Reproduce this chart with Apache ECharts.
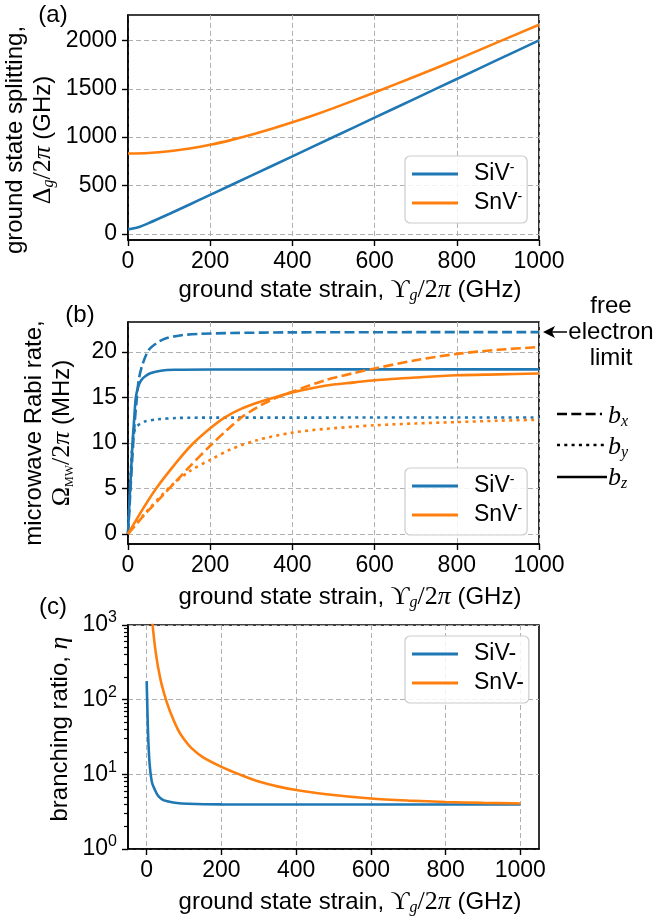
<!DOCTYPE html>
<html><head><meta charset="utf-8">
<script src="https://cdn.jsdelivr.net/npm/echarts@6/dist/echarts.min.js"></script>
<style>html,body{margin:0;padding:0;background:#fff}#c{width:653px;height:919px}</style>
</head><body><div id="c"></div><script>
// (a) ground state splitting vs strain
const xSivA = [0,25,50,100,150,200,300,400,500,600,700,800,900,1000];
const sivSplit = [46,68,110,205,303,403,602,801,1001,1201,1401,1601,1801,2000];
const xSnvA = [0,50,100,150,200,250,300,350,400,450,500,600,700,800,900,1000];
const snvSplit = [830,836,854,883,921,969,1024,1086,1153,1224,1300,1462,1630,1802,1982,2162];

// (b) microwave Rabi rate
const xSivBx = [0,5,10,15,20,26,35,50,70,91,130,172,253,400,1000];
const sivBx  = [0,4,8,11.5,14.2,16.9,18.6,20.2,21,21.5,21.85,22,22.1,22.17,22.2];
const xSivBy = [0,3,6,10,15,22,40,72,120,200,1000];
const sivBy  = [0,3,6,9.5,11.25,11.85,12.35,12.6,12.75,12.79,12.8];
const xSivBz = [0,3,6,11,15,19,25,32,42,56,80,113,200,1000];
const sivBz  = [0,3,5.6,10,12.6,15,16.2,16.9,17.35,17.7,17.95,18.05,18.09,18.1];
const xSnvBx = [0,40,88,113,150,200,240,276,310,349,400,479,552,600,700,800,900,1000];
const snvBx  = [0,2.1,4.4,5.6,7.4,9.7,11.4,12.8,13.8,14.75,15.65,16.9,17.72,18.2,19.1,19.8,20.25,20.55];
const xSnvBy = [0,40,105,150,200,250,316,400,479,552,600,700,800,900,1000];
const snvBy  = [0,2.2,5.3,6.9,8.15,9.3,10.34,11.14,11.55,11.8,11.95,12.15,12.3,12.45,12.55];
const xSnvBz = [0,40,72,113,154,200,235,275,316,360,400,479,552,600,700,800,900,1000];
const snvBz  = [0,3.03,5.22,7.6,9.75,11.62,12.8,13.75,14.45,15.05,15.57,16.3,16.67,16.9,17.2,17.45,17.55,17.65];

// (c) branching ratio
const xSivC = [0,1,2,3,4,5,6,8,11.5,15,22,30,40,55,75,110,200,1000];
const sivEta = [177,110,70,45,32,24,19.2,13.5,9.3,7.5,6.2,5.2,4.67,4.35,4.16,4.03,3.96,3.95];
const xSnvC = [13,15,17.7,22,26,31,40,53,65,84,100,120,150,200,250,300,350,400,475,600,700,800,900,1000];
const snvEta = [1480,1115,810,520,374,264,160,95,65,39.5,29.5,22.4,17,12.6,9.9,8.0,6.9,6.17,5.45,4.74,4.45,4.27,4.15,4.07];

const strainTicks = [0,200,400,600,800,1000];
const splitTicks = [0,500,1000,1500,2000];
const rabiTicks = [0,5,10,15,20];
const minorLog = [2,3,4,5,6,7,8,9,20,30,40,50,60,70,80,90,200,300,400,500,600,700,800,900];

const BLUE = '#1f77b4', ORANGE = '#ff7f0e';
const SANS = 'Liberation Sans, Arial, sans-serif';
const SERIF = 'Liberation Serif, DejaVu Serif, serif';
const DASH = [10,4.3], DOT = [3,4.3];

const zip = (xs, ys) => xs.map((x,i)=>[x, ys[i]]);
function ln(name, xs, ys, color, type, gi, z){
  return {name, type:'line', xAxisIndex:gi, yAxisIndex:gi, data:zip(xs,ys), symbol:'none', showSymbol:false,
    smooth:0.3, lineStyle:{color, width:2.6, type:type||'solid'}, itemStyle:{color}, z:z||2, silent:true};
}

const gridLine = {show:true, lineStyle:{color:'#b0b0b0', width:1, type:[5,3]}};
const tickStyle = {color:'#000', width:1.4};
const plain = v => String(v);
function xAx(gi, extra){
  return Object.assign({type:'value', gridIndex:gi, min:0, max:1000, interval:200,
    axisLine:{show:true, onZero:false, lineStyle:{color:'#000', width:1.6}},
    axisTick:{show:true, inside:false, length:6, lineStyle:tickStyle},
    axisLabel:{color:'#000', fontSize:23, fontFamily:SANS, margin:10, formatter:plain},
    splitLine:gridLine}, extra||{});
}
function yAx(gi, extra){
  return Object.assign({type:'value', gridIndex:gi,
    axisLine:{show:true, onZero:false, lineStyle:{color:'#000', width:1.6}},
    axisTick:{show:true, inside:false, length:6, lineStyle:tickStyle},
    axisLabel:{color:'#000', fontSize:23, fontFamily:SANS, margin:11, formatter:plain},
    splitLine:gridLine}, extra||{});
}

const supRich = {t:{fontSize:23, fontFamily:SANS, padding:[0,0,0,11], lineHeight:26}, s:{fontSize:14, fontFamily:SANS, verticalAlign:'top', lineHeight:22}};
function legendFor(names, labels, top){
  return {data:names.map(n=>({name:n, icon:'rect'})), orient:'vertical', left:405, top,
    itemWidth:46, itemHeight:3, itemGap:3, padding:[5,5,7,7], selectedMode:false,
    borderColor:'#cccccc', borderWidth:1.2, borderRadius:5, backgroundColor:'rgba(255,255,255,0.85)',
    formatter:n=>labels[n], textStyle:{fontSize:23, fontFamily:SANS, color:'#000', lineHeight:26, rich:supRich}};
}
const labAB = {a_SiV:'{t|SiV}{s|-}', a_SnV:'{t|SnV}{s|-}', b_SiV:'{t|SiV}{s|-}', b_SnV:'{t|SnV}{s|-}'};
const labC = {c_SiV:'{t|SiV-}', c_SnV:'{t|SnV-}'};

const mathRich = {
  n:{fontFamily:SANS, fontSize:24, lineHeight:28},
  mu:{fontFamily:SERIF, fontSize:26, lineHeight:28},
  mi:{fontFamily:SERIF, fontStyle:'italic', fontSize:26, lineHeight:28},
  sub:{fontFamily:SERIF, fontStyle:'italic', fontSize:16, lineHeight:28, verticalAlign:'bottom'},
  subr:{fontFamily:SERIF, fontSize:12, lineHeight:28, verticalAlign:'bottom'}
};
function txt(x, y, text, rot, align){
  return {type:'text', x, y, rotation:rot||0, silent:true,
    style:{text, rich:mathRich, fill:'#000', font:'24px '+SANS, align:align||'center', verticalAlign:'middle'}};
}
const strainLabel = '{n|ground state strain, }{mu|ϒ}{sub|g}{mu|/2}{mi|π}{n| (GHz)}';

const chart = echarts.init(document.getElementById('c'), null, {renderer:'canvas'});
chart.setOption({
  animation:false,
  backgroundColor:'#fff',
  grid:[
    {left:128, top:15, width:411, height:225, show:true, borderColor:'#000', borderWidth:1.6},
    {left:128, top:322, width:411, height:222, show:true, borderColor:'#000', borderWidth:1.6},
    {left:128, top:625, width:411, height:224, show:true, borderColor:'#000', borderWidth:1.6},
    // overlay grid that only carries the minor ticks of the log axis (decade exponents)
    {left:128, top:625, width:411, height:224, show:false}
  ],
  xAxis:[
    xAx(0), xAx(1),
    xAx(2, {min:-50, max:1050, interval:null, axisTick:{show:true, length:6, customValues:strainTicks, lineStyle:tickStyle},
      axisLabel:{color:'#000', fontSize:23, fontFamily:SANS, margin:10, customValues:strainTicks, formatter:plain}}),
    {type:'value', gridIndex:3, min:0, max:1, show:false}
  ],
  yAxis:[
    yAx(0, {min:-64, max:2263, axisTick:{show:true, length:6, customValues:splitTicks, lineStyle:tickStyle},
      axisLabel:{color:'#000', fontSize:23, fontFamily:SANS, margin:11, customValues:splitTicks, formatter:plain}}),
    yAx(1, {min:-1.11, max:23.31, axisTick:{show:true, length:6, customValues:rabiTicks, lineStyle:tickStyle},
      axisLabel:{color:'#000', fontSize:23, fontFamily:SANS, margin:11, customValues:rabiTicks, formatter:plain}}),
    yAx(2, {type:'log', logBase:10, min:1, max:1000,
      axisLabel:{color:'#000', fontSize:23, fontFamily:SANS, margin:11,
        formatter:v=>'{b|10}{e|'+Math.round(Math.log10(v))+'}',
        rich:{b:{fontSize:23, fontFamily:SANS, lineHeight:30}, e:{fontSize:16, fontFamily:SANS, verticalAlign:'top', lineHeight:30}}}}),
    {type:'value', gridIndex:3, min:0, max:3, position:'left',
      axisLine:{show:false, onZero:false}, axisLabel:{show:false}, splitLine:{show:false},
      axisTick:{show:true, inside:false, length:4, customValues:minorLog.map(Math.log10), lineStyle:{color:'#000', width:1.2}}}
  ],
  legend:[
    legendFor(['a_SiV','a_SnV'], labAB, 156),
    legendFor(['b_SiV','b_SnV'], labAB, 468),
    legendFor(['c_SiV','c_SnV'], labC, 636)
  ],
  series:[
    ln('a_SiV', xSivA, sivSplit, BLUE, 'solid', 0),
    ln('a_SnV', xSnvA, snvSplit, ORANGE, 'solid', 0),
    ln('b_SiV bx', xSivBx, sivBx, BLUE, DASH, 1),
    ln('b_SiV by', xSivBy, sivBy, BLUE, DOT, 1),
    ln('b_SiV', xSivBz, sivBz, BLUE, 'solid', 1),
    ln('b_SnV bx', xSnvBx, snvBx, ORANGE, DASH, 1),
    ln('b_SnV by', xSnvBy, snvBy, ORANGE, DOT, 1),
    ln('b_SnV', xSnvBz, snvBz, ORANGE, 'solid', 1),
    ln('c_SiV', xSivC, sivEta, BLUE, 'solid', 2),
    ln('c_SnV', xSnvC, snvEta, ORANGE, 'solid', 2)
  ],
  graphic:[
    txt(53, 15, '{n|(a)}'), txt(80, 315, '{n|(b)}'), txt(53, 607, '{n|(c)}'),
    txt(29, 140, '{n|ground state splitting,}\n{mu|Δ}{sub|g}{mu|/2}{mi|π}{n| (GHz)}', Math.PI/2),
    txt(48, 433, '{n|microwave Rabi rate,}\n{mu|Ω}{subr|MW}{mu|/2}{mi|π}{n| (MHz)}', Math.PI/2),
    txt(60, 729, '{n|branching ratio, }{mi|η}', Math.PI/2),
    txt(350, 290, strainLabel), txt(350, 597, strainLabel), txt(350, 902, strainLabel),
    txt(611, 306, '{n|free}'), txt(611, 332, '{n|electron}'), txt(611, 358, '{n|limit}'),
    {type:'line', silent:true, shape:{x1:549, y1:332, x2:567, y2:332}, style:{stroke:'#000', lineWidth:1.5}},
    {type:'polygon', silent:true, shape:{points:[[543,332],[555,326],[552,332],[555,338]]}, style:{fill:'#000'}},
    {type:'line', silent:true, shape:{x1:557, y1:414, x2:602, y2:414}, style:{stroke:'#000', lineWidth:2.6, lineDash:DASH}},
    {type:'line', silent:true, shape:{x1:557, y1:445, x2:604, y2:445}, style:{stroke:'#000', lineWidth:2.6, lineDash:DOT}},
    {type:'line', silent:true, shape:{x1:557, y1:477, x2:607, y2:477}, style:{stroke:'#000', lineWidth:2.6}},
    txt(608, 416, '{mi|b}{sub|x}', 0, 'left'),
    txt(608, 447, '{mi|b}{sub|y}', 0, 'left'),
    txt(608, 478, '{mi|b}{sub|z}', 0, 'left')
  ]
});
</script></body></html>
